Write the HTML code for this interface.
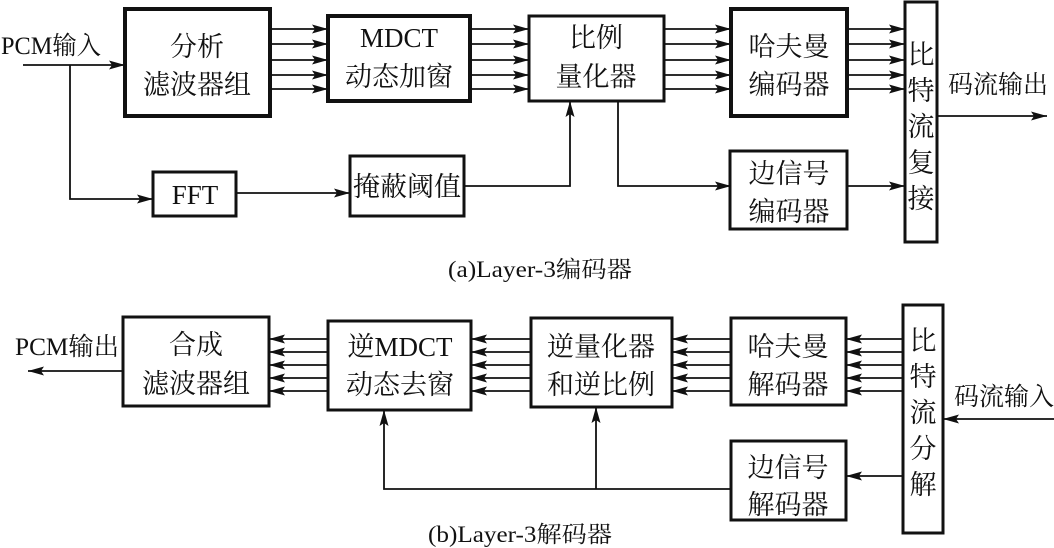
<!DOCTYPE html>
<html><head><meta charset="utf-8"><style>
html,body{margin:0;padding:0;background:#fff;}
svg{display:block;}
text{font-family:"Liberation Serif","Noto Serif CJK SC",serif;fill:#111;}
</style></head><body>
<svg width="1054" height="548" viewBox="0 0 1054 548" xmlns="http://www.w3.org/2000/svg">
<defs>
<marker id="a" viewBox="0 0 16 9" refX="16" refY="4.5" markerWidth="16" markerHeight="9" markerUnits="userSpaceOnUse" orient="auto">
<path d="M0,0 L16,4.5 L0,9 L3,4.5 Z" fill="#111"/></marker>
</defs>
<g fill="none" stroke="#111" stroke-width="4">
<rect x="125" y="9" width="145" height="107"/>
<rect x="328" y="16" width="142" height="85"/>
<rect x="529" y="16" width="135" height="85" stroke-width="3"/>
<rect x="731" y="9" width="116" height="107"/>
<rect x="905" y="2" width="32" height="240" stroke-width="3"/>
<rect x="730" y="151" width="117" height="78" stroke-width="3"/>
<rect x="153" y="172" width="83" height="44" stroke-width="3"/>
<rect x="350" y="156" width="114" height="60" stroke-width="3"/>

<rect x="123" y="317" width="146" height="89" stroke-width="3"/>
<rect x="328" y="321" width="143" height="89" stroke-width="3"/>
<rect x="531" y="318" width="141" height="89" stroke-width="3"/>
<rect x="731" y="318" width="115" height="87" stroke-width="3"/>
<rect x="903" y="305" width="40" height="228" stroke-width="3"/>
<rect x="731" y="441" width="115" height="79" stroke-width="3"/>
</g>
<g fill="none" stroke="#111" stroke-width="1.8" marker-end="url(#a)">
<path d="M23,65 H125"/>
<path d="M70,65 V199 H153"/>
<path d="M236,193 H350"/>
<path d="M464,186 H570 V101"/>
<path d="M618,101 V186 H731"/>
<path d="M847,186 H905"/>
<path d="M937,116 H1047"/>
<path d="M270,29H328"/><path d="M270,44H328"/><path d="M270,60H328"/><path d="M270,75H328"/><path d="M270,89H328"/>
<path d="M470,29H529"/><path d="M470,44H529"/><path d="M470,60H529"/><path d="M470,75H529"/><path d="M470,89H529"/>
<path d="M664,29H731"/><path d="M664,44H731"/><path d="M664,60H731"/><path d="M664,75H731"/><path d="M664,89H731"/>
<path d="M847,29H905"/><path d="M847,44H905"/><path d="M847,60H905"/><path d="M847,75H905"/><path d="M847,89H905"/>

<path d="M123,371 H28"/>
<path d="M1054,419 H943"/>
<path d="M903,476 H846"/>
<path d="M731,489 H384 V410"/>
<path d="M596,489 V407"/>
<path d="M328,339H269"/><path d="M328,352H269"/><path d="M328,365H269"/><path d="M328,378H269"/><path d="M328,391H269"/>
<path d="M531,339H471"/><path d="M531,352H471"/><path d="M531,365H471"/><path d="M531,378H471"/><path d="M531,391H471"/>
<path d="M731,339H672"/><path d="M731,352H672"/><path d="M731,365H672"/><path d="M731,378H672"/><path d="M731,391H672"/>
<path d="M903,339H846"/><path d="M903,352H846"/><path d="M903,365H846"/><path d="M903,378H846"/><path d="M903,391H846"/>
</g>
<g font-size="27" text-anchor="middle">
<text x="197" y="56">分析</text><text x="197" y="94">滤波器组</text>
<text x="399" y="47">MDCT</text><text x="399" y="86">动态加窗</text>
<text x="596" y="47">比例</text><text x="596" y="86">量化器</text>
<text x="789" y="56">哈夫曼</text><text x="789" y="94">编码器</text>
<text x="789" y="183">边信号</text><text x="789" y="221">编码器</text>
<text x="195" y="204">FFT</text>
<text x="407" y="196">掩蔽阈值</text>
<text x="921" y="64">比</text><text x="921" y="100">特</text><text x="921" y="136">流</text><text x="921" y="172">复</text><text x="921" y="208">接</text>
<text x="196" y="354">合成</text><text x="196" y="393">滤波器组</text>
<text x="400" y="356">逆MDCT</text><text x="400" y="394">动态去窗</text>
<text x="601" y="356">逆量化器</text><text x="601" y="394">和逆比例</text>
<text x="788" y="356">哈夫曼</text><text x="788" y="394">解码器</text>
<text x="788" y="477">边信号</text><text x="788" y="514">解码器</text>
<text x="923" y="350">比</text><text x="923" y="386">特</text><text x="923" y="422">流</text><text x="923" y="458">分</text><text x="923" y="494">解</text>
</g>
<g font-size="25">
<text x="1" y="54" textLength="100" lengthAdjust="spacingAndGlyphs">PCM输入</text>
<text x="948" y="93" textLength="100" lengthAdjust="spacingAndGlyphs">码流输出</text>
<text x="15" y="355" textLength="104" lengthAdjust="spacingAndGlyphs">PCM输出</text>
<text x="954" y="405" textLength="100" lengthAdjust="spacingAndGlyphs">码流输入</text>
</g>
<g font-size="23" text-anchor="middle">
<text x="540" y="277" textLength="184" lengthAdjust="spacingAndGlyphs">(a)Layer-3编码器</text>
<text x="520" y="542" textLength="184" lengthAdjust="spacingAndGlyphs">(b)Layer-3解码器</text>
</g>
</svg>
</body></html>
